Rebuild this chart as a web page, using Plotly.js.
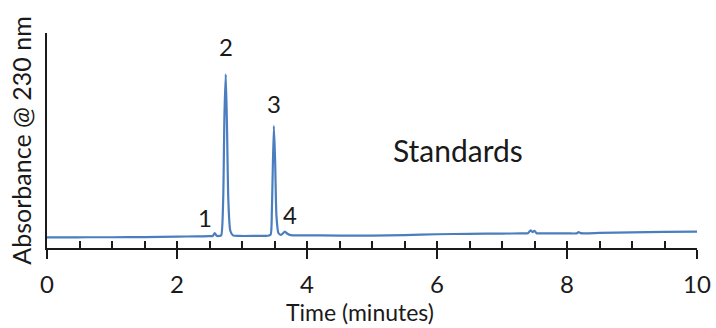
<!DOCTYPE html>
<html>
<head>
<meta charset="utf-8">
<script src="https://cdn.plot.ly/plotly-3.0.1.min.js"></script>
<style>html,body{margin:0;padding:0;background:#fff;}#chart{width:716px;height:328px;}</style>
</head>
<body>
<div id="chart"></div>
<script>
// Chromatogram (time in minutes, absorbance in arbitrary units)
const timeMin = [0,0.3,0.6,1,1.5,2,2.3,2.5,2.55,2.58,2.61,2.65,2.68,2.71,2.73,2.75,2.77,2.79,2.82,2.86,2.95,3.2,3.4,3.44,3.46,3.49,3.51,3.53,3.56,3.6,3.63,3.66,3.7,3.75,3.9,4.5,5,5.5,6,6.5,7,7.3,7.4,7.44,7.47,7.5,7.53,7.58,7.7,8,8.15,8.18,8.21,8.5,9,9.5,10];
const absorbance = [4.9,4.9,5.0,5.0,5.1,5.3,5.4,5.5,5.6,6.9,5.7,5.6,5.9,22,62,80.8,55,22,8,5.9,5.6,5.6,5.7,6.2,18,56.8,40,15,7,6.1,6.8,7.6,6.6,6.0,5.9,5.8,5.8,6.0,6.4,6.6,6.7,6.8,6.9,8.2,7.4,8.0,6.9,6.8,6.8,6.8,6.8,7.4,6.9,7.0,7.3,7.5,7.6];
const peakLabels = ["1","2","3","4"];
const peakLabelX = [2.43,2.75,3.49,3.74];
const peakLabelY = [14,93.5,67,15.8];
const sampleLabel = "Standards";
const xTitle = "Time (minutes)";
const yTitle = "Absorbance @ 230 nm";
const xTickVals = [0,2,4,6,8,10];
const xTickText = ["0","2","4","6","8","10"];

const FONT = "Lato, 'Open Sans', sans-serif";
const annotations = peakLabels.map((t,i)=>({
  x: peakLabelX[i], y: peakLabelY[i], xref:'x', yref:'y', text:t, showarrow:false,
  font:{family:FONT,size:24,color:'#1a1a1a'}
}));
annotations.push({x:6.32,y:45.6,xref:'x',yref:'y',text:sampleLabel,showarrow:false,
  font:{family:FONT,size:30,color:'#1a1a1a'}});
annotations.push({x:0.4815,y:-0.298,xref:'paper',yref:'paper',text:xTitle,showarrow:false,
  xanchor:'center',yanchor:'middle',font:{family:FONT,size:23,color:'#1a1a1a'}});

const data = [
  {x:timeMin, y:absorbance, type:'scatter', mode:'lines', line:{color:'#4a7ebf',width:2.2,shape:'spline',smoothing:0.6}, hoverinfo:'skip', showlegend:false},
  {x:[0,10], y:[null,null], xaxis:'x2', yaxis:'y', type:'scatter', mode:'lines', showlegend:false, hoverinfo:'skip'}
];

const layout = {
  width:716, height:328,
  margin:{l:47,r:19,t:33,b:80},
  paper_bgcolor:'#fff', plot_bgcolor:'#fff',
  showlegend:false,
  font:{family:FONT,color:'#1a1a1a'},
  xaxis:{range:[0,10], showgrid:false, zeroline:false, showline:true, linecolor:'#1a1a1a', linewidth:2,
    tickvals:xTickVals, ticktext:xTickText, ticks:'outside', ticklen:9, tickwidth:2, tickcolor:'#1a1a1a',
    ticklabelstandoff:5,
    tickfont:{family:FONT,size:24,color:'#1a1a1a'}},
  xaxis2:{range:[0,10], overlaying:'x', side:'bottom', anchor:'y', showgrid:false, zeroline:false, showline:false,
    dtick:0.5, tick0:0, ticks:'inside', ticklen:7, tickwidth:2, tickcolor:'#1a1a1a', showticklabels:false},
  yaxis:{range:[0,100], showgrid:false, zeroline:false, showline:true, linecolor:'#1a1a1a', linewidth:2,
    ticks:'', showticklabels:false,
    title:{text:yTitle, font:{family:FONT,size:25,color:'#1a1a1a'}, standoff:6}},
  annotations: annotations
};
Plotly.newPlot('chart', data, layout, {displayModeBar:false, staticPlot:true});
</script>
</body>
</html>
